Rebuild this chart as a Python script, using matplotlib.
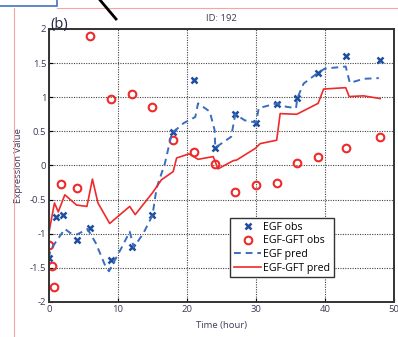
import matplotlib
matplotlib.use('Agg')
import matplotlib.pyplot as plt
from matplotlib.lines import Line2D
from matplotlib.patches import Rectangle

plt.rcParams['axes.unicode_minus'] = False
plt.rcParams['font.family'] = ['Open Sans', 'DejaVu Sans']

egf_obs_t = [0, 1, 2, 4, 6, 9, 12, 15, 18, 21, 24, 27, 30, 33, 36, 39, 43, 48]
egf_obs_y = [-1.36, -0.75, -0.73, -1.09, -0.92, -1.38, -1.19, -0.73, 0.49, 1.25,
             0.26, 0.75, 0.62, 0.90, 0.99, 1.36, 1.61, 1.54]

gft_obs_t = [0, 0.4, 0.8, 1.7, 4, 6, 9, 12, 15, 18, 21, 24, 27, 30, 33, 36, 39, 43, 48]
gft_obs_y = [-1.17, -1.47, -1.78, -0.27, -0.33, 1.90, 0.97, 1.05, 0.85, 0.38, 0.20,
             0.02, -0.39, -0.29, -0.26, 0.03, 0.13, 0.26, 0.41]

# model predictions
egf_pred_t = [0, 0.2, 1, 2.3, 3.1, 4.1, 5.6, 6.8, 8.2, 8.7, 9.7, 10.6, 11.7, 12.3,
              13.7, 15, 15.6, 16.8, 17.8, 19.5, 21.2, 21.6, 23.3, 24, 24.1, 26.4,
              27, 28.4, 30, 30.4, 33, 34.4, 35.8, 36, 36.9, 39, 40, 43, 43.6, 45.6, 47.8]
egf_pred_y = [-1.36, -1.24, -1.12, -0.93, -0.99, -1.01, -0.93, -1.14, -1.48, -1.55,
              -1.36, -1.19, -0.97, -1.20, -0.99, -0.73, -0.33, 0.03, 0.47, 0.62,
              0.71, 0.91, 0.79, 0.52, 0.26, 0.42, 0.75, 0.66, 0.63, 0.84, 0.91,
              0.86, 0.84, 0.99, 1.20, 1.36, 1.42, 1.45, 1.21, 1.27, 1.28]

gft_pred_t = [0, 0.8, 1.35, 2.3, 4, 5.5, 6.3, 7.1, 8.8, 11.7, 12.5, 15, 16.3, 18,
              18.5, 20.3, 21.6, 23.8, 24.5, 26.7, 27.2, 29.9, 30.6, 33, 33.5,
              35.9, 39, 39.8, 43, 43.5, 45.6, 48]
gft_pred_y = [-0.98, -0.55, -0.68, -0.43, -0.58, -0.60, -0.20, -0.55, -0.85, -0.60,
              -0.72, -0.40, -0.21, -0.09, 0.11, 0.17, 0.09, 0.13, -0.05, 0.07,
              0.08, 0.25, 0.32, 0.37, 0.76, 0.75, 0.91, 1.12, 1.14, 1.01, 1.02, 0.98]

xticks = [0, 10, 20, 30, 40, 50]
yticks = [-2, -1.5, -1, -0.5, 0, 0.5, 1, 1.5, 2]
ytick_labels = ['-2', '-1.5', '-1', '-0.5', '0', '0.5', '1', '1.5', '2']

blue = '#1f4e9e'
blue_line = '#3a6cc0'
red = '#ee2a2a'
tick_col = '#3c3c5a'

fig = plt.figure(figsize=(3.98, 3.37), dpi=100)
ax = fig.add_axes([0.123, 0.104, 0.867, 0.810])

ax.plot(egf_obs_t, egf_obs_y, 'x', color=blue, ms=4.5, mew=1.8, label='EGF obs')
ax.plot(gft_obs_t, gft_obs_y, 'o', mfc='none', mec=red, ms=5.5, mew=1.5, label='EGF-GFT obs')
ax.plot(egf_pred_t, egf_pred_y, '--', color=blue_line, lw=1.4, dashes=(3.5, 2.5), label='EGF pred')
ax.plot(gft_pred_t, gft_pred_y, '-', color=red, lw=1.2, label='EGF-GFT pred')

ax.set_xlim(0, 50)
ax.set_ylim(-2, 2)
ax.set_xticks(xticks)
ax.set_yticks(yticks)
ax.set_yticklabels(ytick_labels)
ax.tick_params(direction='in', labelsize=6.8, colors='black', labelcolor=tick_col,
               length=3, pad=2)
ax.grid(True, color='#444444', linestyle=(0, (1, 1.2)), lw=0.8)
for s in ax.spines.values():
    s.set_linewidth(1.4)
    s.set_color('#333333')

ax.set_xlabel('Time (hour)', fontsize=6.8, color=tick_col, labelpad=5)
ax.set_ylabel('Expression Value', fontsize=6.8, color=tick_col, labelpad=5)
ax.set_title('ID: 192', fontsize=6.8, color=tick_col, pad=6)
ax.text(0.005, 0.99, '(b)', transform=ax.transAxes, fontsize=10.5, color='#222244',
        ha='left', va='bottom')

leg = ax.legend(loc='lower left', bbox_to_anchor=(0.525, 0.09), fontsize=7.6,
                frameon=True, fancybox=False, edgecolor='#333333', framealpha=1,
                handlelength=2.6, handletextpad=0.2, borderpad=0.35, labelspacing=0.25,
                borderaxespad=0)
leg.get_frame().set_linewidth(1.0)

# bits of the surrounding screenshot
fig.add_artist(Rectangle((-0.01, 1 - 6 / 337), 57 / 398 + 0.01, 0.05,
                         transform=fig.transFigure, fill=False, ec='#4472c4', lw=1.2))
fig.add_artist(Line2D([57 / 398, 1], [1 - 7.5 / 337] * 2, transform=fig.transFigure,
                      color='#f4a6a6', lw=0.8))
fig.add_artist(Line2D([13.5 / 398] * 2, [0, 1 - 7.5 / 337], transform=fig.transFigure,
                      color='#f4a6a6', lw=0.8))
fig.add_artist(Line2D([100 / 398, 116 / 398], [1, 1 - 19 / 337], transform=fig.transFigure,
                      color='black', lw=2))

fig.savefig('out.png', dpi=100)
